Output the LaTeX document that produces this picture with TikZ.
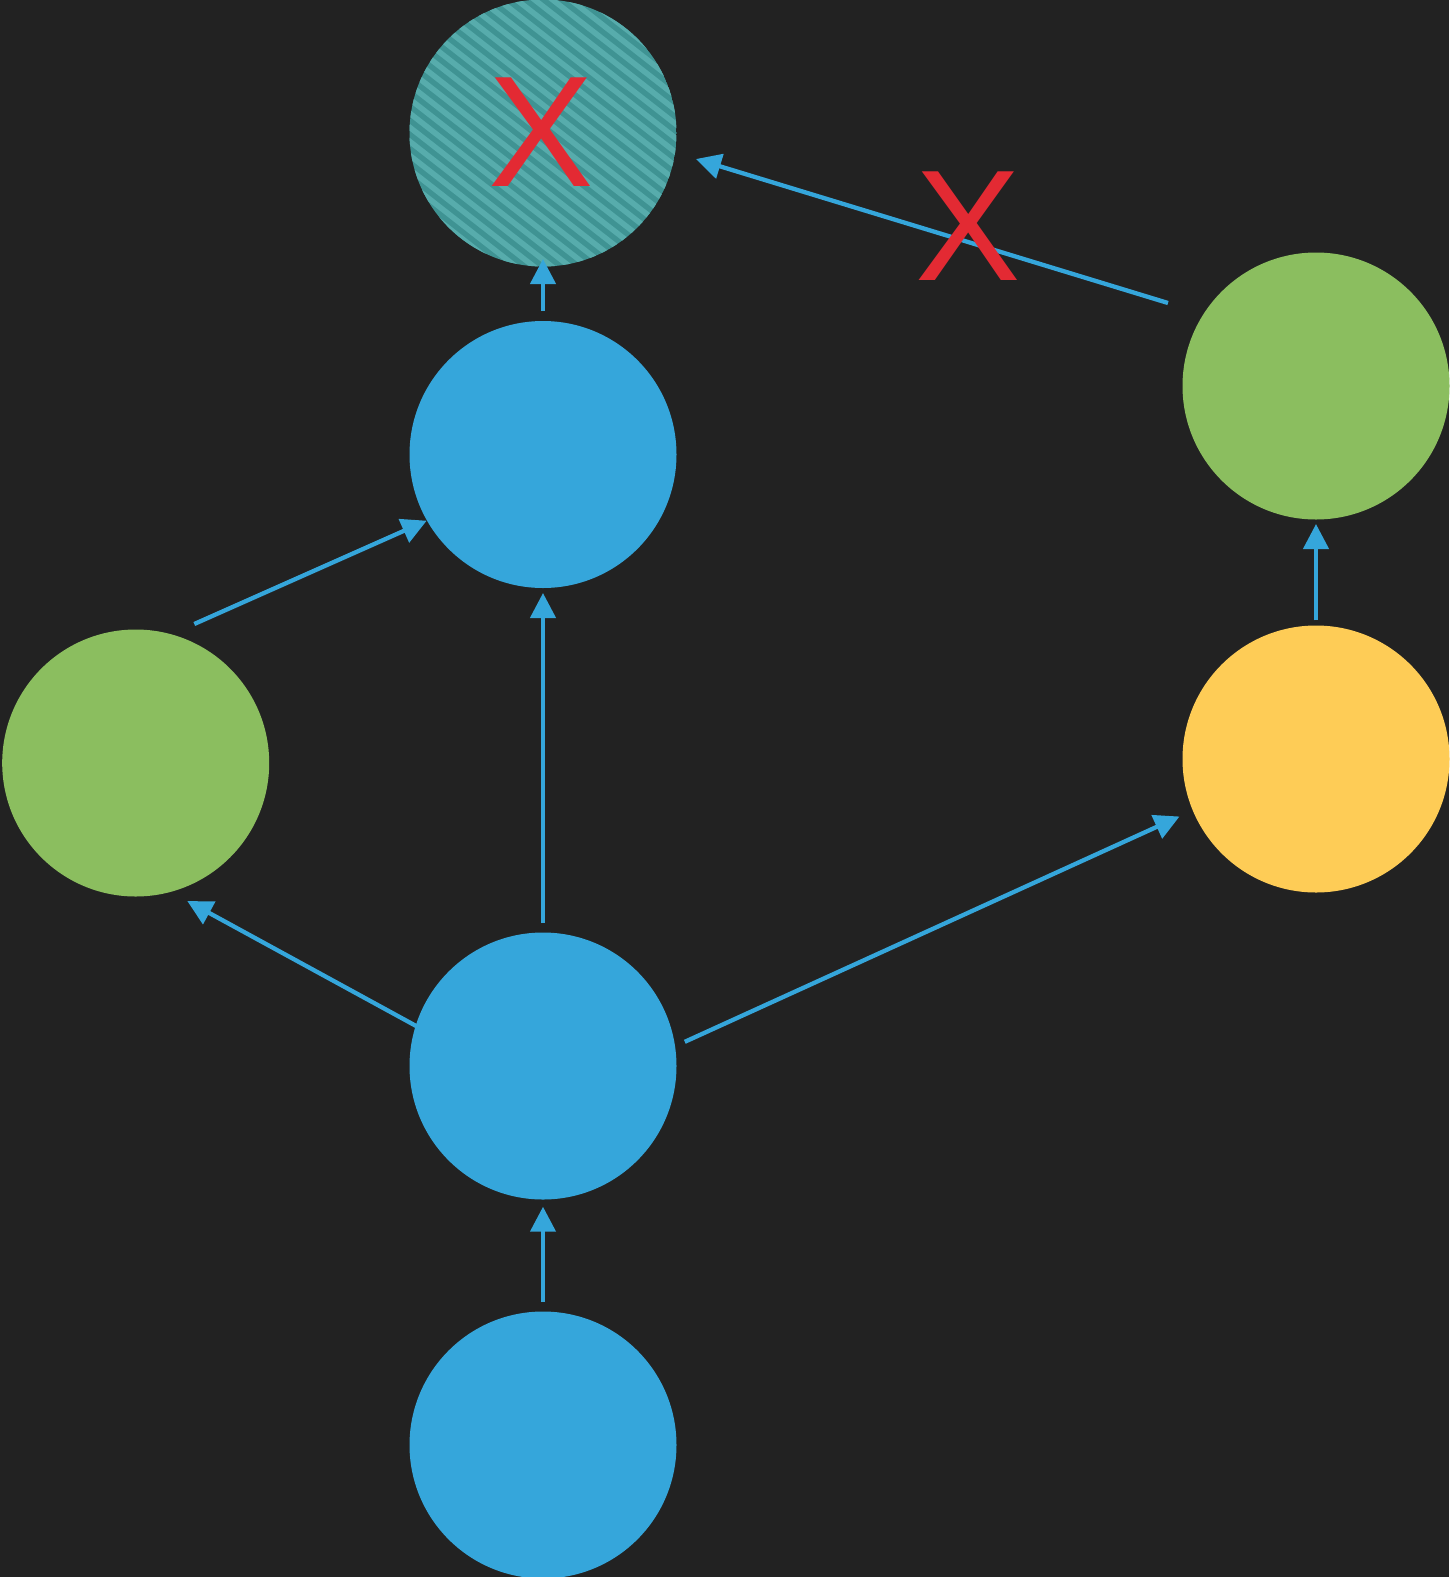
\documentclass[tikz,border=0pt]{standalone}
\usepackage{fontspec}
\setmainfont{Liberation Sans}
\usetikzlibrary{arrows.meta,calc}
\definecolor{bgc}{HTML}{222222}
\definecolor{cblue}{HTML}{35A6DB}
\definecolor{cgreen}{HTML}{8BBE5F}
\definecolor{cyellow}{HTML}{FECC56}
\definecolor{cteal}{HTML}{3F9393}
\definecolor{cstripe}{HTML}{57ACAC}
\definecolor{cred}{HTML}{E32A33}
\begin{document}
\begin{tikzpicture}[x=1pt,y=-1pt,
  circ/.style={circle,minimum size=267pt,inner sep=0pt,outer sep=0pt},
  arr/.style={draw=cblue,line width=4.3pt,-{Triangle[length=25pt,width=25pt]}},
  xmark/.style={text=cred,inner sep=0pt,font=\fontsize{158}{158}\selectfont}]
\fill[bgc] (0,0) rectangle (1449,1577);
\useasboundingbox (0,0) rectangle (1449,1577);
% nodes
\node[circ] (top) at (543,133) {};
\node[circ,fill=cblue] (mid) at (543,454.5) {};
\node[circ,fill=cgreen] (gr1) at (135.7,763) {};
\node[circ,fill=cblue] (bl) at (543,1066) {};
\node[circ,fill=cblue] (bot) at (543,1445) {};
\node[circ,fill=cgreen] (gr2) at (1316,386) {};
\node[circ,fill=cyellow] (ye) at (1316,759) {};
% hatched top circle
\begin{scope}
  \clip (top.center) circle (133.5);
  \fill[cteal] (top.center) circle (134);
  \foreach \k in {-450,-432,...,450}
    \draw[cstripe,line width=5.5pt] ($(top.center)+(\k-197,-154)$) -- ++(394,308);
\end{scope}
\node[xmark] (x1) at (541,132.5) {X};
% connectors
\draw[arr] ($(mid)+(0,-143.5)$) -- ($(top)+(0,126)$);
\draw[arr] ($(gr2)+(-148,-83)$) -- ($(top)+(153,26)$);
\draw[arr] ($(gr1)+(58.6,-139)$) -- ($(mid)+(-116.3,66.2)$);
\draw[arr] ($(bl)+(0,-143)$) -- ($(mid)+(0,138.5)$);
\draw[arr] ($(bl)+(-125,-39)$) -- ($(gr1)+(51.6,138)$);
\draw[arr] ($(bl)+(141.8,-24.2)$) -- ($(ye)+(-136.5,57.5)$);
\draw[arr] ($(bot)+(0,-143)$) -- ($(bl)+(0,140.7)$);
\draw[arr] ($(ye)+(0,-138.6)$) -- ($(gr2)+(0,138)$);
\node[xmark] (x2) at (967.7,225.7) {X};
\end{tikzpicture}
\end{document}
